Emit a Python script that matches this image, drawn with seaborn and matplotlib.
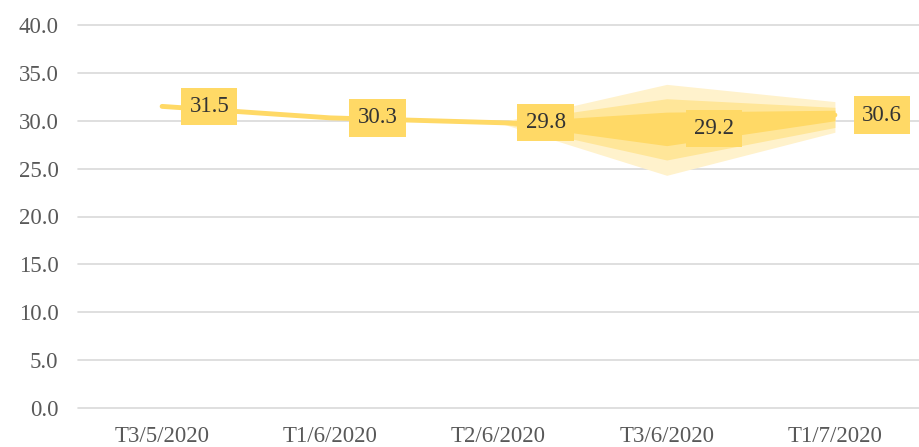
import matplotlib
matplotlib.use("Agg")
import matplotlib.pyplot as plt
import seaborn as sns
import pandas as pd

# Dữ liệu
periods = ["T3/5/2020", "T1/6/2020", "T2/6/2020", "T3/6/2020", "T1/7/2020"]
values = [31.5, 30.3, 29.8, 29.2, 30.6]

# Dải dự báo (từ T2/6 đến T1/7)
fan_idx = [2, 3, 4]
outer_low = [29.8, 24.3, 28.8]
outer_high = [29.8, 33.8, 32.0]
mid_low = [29.8, 25.9, 29.3]
mid_high = [29.8, 32.3, 31.4]
inner_low = [29.8, 27.4, 30.0]
inner_high = [29.8, 30.9, 31.1]

gold = "#FFD966"

sns.set_style("white")
plt.rcParams["font.family"] = ["Liberation Serif", "DejaVu Serif"]

df = pd.DataFrame({"x": range(len(periods)), "value": values})

fig = plt.figure(figsize=(9.19, 4.47), dpi=100)
ax = fig.add_axes([78 / 919, 39 / 447, 841 / 919, 383 / 447])

ax.fill_between(fan_idx, outer_low, outer_high, color="#FFF2CC", lw=0, zorder=2)
ax.fill_between(fan_idx, mid_low, mid_high, color="#FFE699", lw=0, zorder=2)
ax.fill_between(fan_idx, inner_low, inner_high, color=gold, lw=0, zorder=2)

sns.lineplot(data=df, x="x", y="value", color=gold, lw=3.5, ax=ax, zorder=3,
             solid_capstyle="round")

for i, v in enumerate(values):
    ax.annotate(f"{v:.1f}", (i, v), xytext=(34, 0), textcoords="offset points",
                ha="center", va="center", fontsize=16.5, color="#333333", zorder=5,
                bbox=dict(boxstyle="square,pad=0.36", fc=gold, ec="none"))

ax.set_xlim(-0.5, 4.5)
ax.set_ylim(0, 40)
ax.set_yticks(range(0, 41, 5))
ax.set_yticklabels([f"{t:.1f}" for t in range(0, 41, 5)])
ax.set_xticks(range(len(periods)))
ax.set_xticklabels(periods)
ax.yaxis.grid(True, color="#D9D9D9", lw=1.2)
for gl in ax.yaxis.get_gridlines():
    gl.set_clip_on(False)
ax.set_axisbelow(True)
ax.tick_params(axis="both", length=0, labelsize=16.5, colors="#595959")
ax.tick_params(axis="y", pad=14)
ax.tick_params(axis="x", pad=13)
ax.set_xlabel("")
ax.set_ylabel("")
for s in ax.spines.values():
    s.set_visible(False)

fig.savefig("out.png", dpi=100)
